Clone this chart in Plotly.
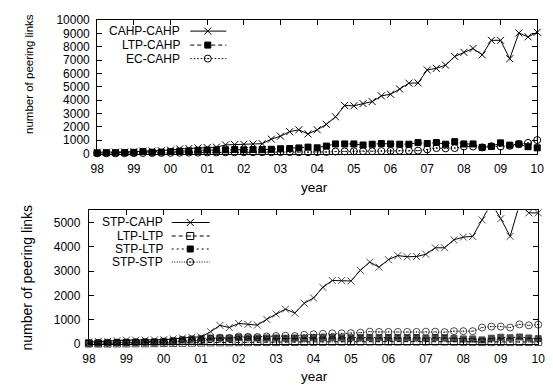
import plotly.graph_objects as go

# Quarterly sampling points, 1998 Q1 .. 2010 Q1
quarters = [1998 + q / 4 for q in range(49)]
year_ticks = list(range(1998, 2011))
year_labels = ["98", "99", "00", "01", "02", "03", "04", "05", "06", "07", "08", "09", "10"]

# Upper panel: peering links involving CAHPs
cahp_cahp = [100, 100, 100, 120, 140, 180, 190, 210, 260, 350, 380, 420,
             450, 480, 650, 670, 700, 720, 740, 1080, 1300, 1640, 1780, 1470,
             1780, 2190, 2750, 3600, 3575, 3740, 3890, 4320, 4440, 4830, 5270, 5290,
             6260, 6380, 6620, 7270, 7580, 7870, 7390, 8480, 8480, 7100, 9030, 8740,
             9080]
ltp_cahp = [50, 60, 60, 70, 90, 140, 100, 110, 150, 180, 200, 250,
            270, 260, 280, 300, 280, 300, 290, 320, 360, 380, 420, 480,
            430, 560, 720, 720, 720, 640, 700, 750, 720, 700, 700, 820,
            750, 820, 700, 890, 720, 720, 460, 530, 800, 630, 720, 510,
            430]
ec_cahp = [20, 20, 20, 30, 30, 40, 40, 50, 50, 60, 70, 70,
           80, 80, 90, 90, 100, 100, 100, 100, 110, 110, 100, 100,
           110, 120, 150, 160, 170, 180, 170, 190, 200, 210, 210, 220,
           310, 410, 390, 410, 530, 530, 460, 550, 530, 580, 700, 800,
           1010]

# Lower panel: peering links involving STPs / LTPs
stp_cahp = [70, 100, 100, 130, 150, 150, 150, 160, 170, 200, 240, 270,
            280, 500, 760, 670, 840, 800, 770, 1010, 1230, 1430, 1270, 1670,
            1890, 2330, 2610, 2610, 2590, 3030, 3370, 3160, 3470, 3640, 3590, 3600,
            3690, 3960, 3960, 4290, 4400, 4430, 5110, 5800, 5160, 4430, 5750, 5400,
            5400]
ltp_ltp = [10, 10, 10, 15, 15, 20, 20, 25, 30, 35, 40, 45,
           50, 55, 60, 60, 65, 65, 70, 70, 70, 75, 75, 75,
           80, 80, 85, 85, 85, 90, 90, 90, 90, 90, 90, 90,
           90, 90, 90, 85, 80, 80, 70, 70, 70, 70, 75, 75,
           75]
stp_ltp = [30, 30, 40, 50, 60, 70, 80, 80, 110, 130, 170, 200,
           220, 240, 240, 230, 260, 250, 240, 240, 240, 230, 240, 230,
           250, 250, 260, 250, 250, 260, 260, 250, 260, 260, 250, 260,
           230, 260, 250, 220, 200, 200, 160, 230, 270, 250, 280, 240,
           210]
stp_stp = [30, 40, 40, 50, 50, 60, 60, 60, 70, 80, 100, 120,
           140, 200, 250, 240, 300, 290, 280, 300, 320, 330, 320, 370,
           390, 410, 430, 430, 440, 460, 500, 490, 490, 490, 490, 490,
           500, 500, 480, 520, 520, 520, 670, 710, 710, 670, 800, 760,
           790]

TOP_YMAX = 10000
BOT_YMAX = 5500

FONT = "Liberation Sans, Arial, Helvetica, sans-serif"
TICK_SIZE = 12
KEY_SIZE = 12
W, H = 553, 391

# series styles: (name, values, symbol, dash)
top_series = [
    ("CAHP-CAHP", cahp_cahp, "x-thin", "solid"),
    ("LTP-CAHP", ltp_cahp, "square", "4px,3px"),
    ("EC-CAHP", ec_cahp, "circle-open-dot", "1.5px,2px"),
]
bottom_series = [
    ("STP-CAHP", stp_cahp, "x-thin", "solid"),
    ("LTP-LTP", ltp_ltp, "square-open-dot", "4px,3px"),
    ("STP-LTP", stp_ltp, "square", "2px,3px"),
    ("STP-STP", stp_stp, "circle-open-dot", "1px,1.5px"),
]


def marker_for(symbol, size=7):
    return dict(symbol=symbol, size=size, color="black",
                line=dict(color="black", width=1))


def base_size(symbol):
    return 6 if symbol == "square" else 7


fig = go.Figure()

for name, vals, sym, dash in top_series:
    fig.add_trace(go.Scatter(
        x=quarters, y=vals, mode="lines+markers", name=name,
        line=dict(color="black", width=1, dash=dash),
        marker=marker_for(sym, base_size(sym)),
        cliponaxis=False, xaxis="x", yaxis="y", showlegend=False))

for name, vals, sym, dash in bottom_series:
    b = base_size(sym)
    m = marker_for(sym, b)
    # markers for values beyond the axis top are not drawn (lines get clipped)
    m["size"] = [b if v <= BOT_YMAX else 0 for v in vals]
    fig.add_trace(go.Scatter(
        x=quarters, y=vals, mode="lines+markers", name=name,
        line=dict(color="black", width=1, dash=dash),
        marker=m, cliponaxis=False, xaxis="x2", yaxis="y2", showlegend=False))

# Key entries (text on the left, sample line with marker on the right),
# drawn on a pixel-scaled helper axis spanning the whole figure.
annotations = []


def add_key(entries, text_right, sample_x0, sample_x1, mark_x, row_y):
    for (name, _vals, sym, dash), yk in zip(entries, row_y):
        fig.add_trace(go.Scatter(
            x=[sample_x0, sample_x1], y=[yk, yk], mode="lines",
            line=dict(color="black", width=1, dash=dash),
            xaxis="x3", yaxis="y3", showlegend=False, hoverinfo="skip",
            cliponaxis=False))
        fig.add_trace(go.Scatter(
            x=[mark_x], y=[yk], mode="markers",
            marker=marker_for(sym, base_size(sym)),
            xaxis="x3", yaxis="y3", showlegend=False, hoverinfo="skip",
            cliponaxis=False))
        annotations.append(dict(
            text=name, x=text_right / W, y=1 - yk / H, xref="paper", yref="paper",
            xanchor="right", yanchor="middle", showarrow=False,
            font=dict(family=FONT, size=KEY_SIZE, color="black"), borderpad=0))


add_key(top_series, 179, 188, 225, 206, [25, 39.5, 53.5])
add_key(bottom_series, 161, 169, 208, 188, [223.5, 237.5, 251, 264.5])

# Axis titles
annotations += [
    dict(text="year", x=315 / W, y=1 - 187 / H, xref="paper", yref="paper",
         xanchor="center", yanchor="middle", showarrow=False,
         font=dict(family=FONT, size=13.5, color="black")),
    dict(text="year", x=315 / W, y=1 - 383 / H, xref="paper", yref="paper",
         xanchor="center", yanchor="middle", showarrow=False,
         font=dict(family=FONT, size=13.5, color="black")),
    dict(text="number of peering links", x=22 / W, y=1 - 69 / H, xref="paper",
         yref="paper", xanchor="center", yanchor="middle", showarrow=False,
         textangle=-90, font=dict(family=FONT, size=11.5, color="black")),
    dict(text="number of peering links", x=20 / W, y=1 - 280 / H, xref="paper",
         yref="paper", xanchor="center", yanchor="middle", showarrow=False,
         textangle=-90, font=dict(family=FONT, size=14, color="black")),
]

axis_common = dict(
    showline=True, linecolor="black", linewidth=1, mirror="ticks",
    ticks="inside", ticklen=5, tickwidth=1, tickcolor="black",
    showgrid=False, zeroline=False,
    tickfont=dict(family=FONT, size=TICK_SIZE, color="black"),
)

fig.update_layout(
    width=W, height=H,
    margin=dict(l=0, r=0, t=0, b=0),
    paper_bgcolor="white", plot_bgcolor="rgba(0,0,0,0)",
    showlegend=False,
    annotations=annotations,
    xaxis=dict(domain=[92.5 / W, 544 / W], anchor="y", range=[1998, 2010],
               tickvals=year_ticks, ticktext=year_labels, ticklabelstandoff=4,
               **axis_common),
    yaxis=dict(domain=[1 - 152 / H, 1 - 13.5 / H], anchor="x",
               range=[0, TOP_YMAX], tickvals=list(range(0, TOP_YMAX + 1, 1000)),
               tickformat="d", ticklabelstandoff=4, **axis_common),
    xaxis2=dict(domain=[84 / W, 545 / W], anchor="y2", range=[1998, 2010],
                tickvals=year_ticks, ticktext=year_labels, ticklabelstandoff=4,
                **axis_common),
    yaxis2=dict(domain=[1 - 349.3 / H, 1 - 211 / H], anchor="x2",
                range=[0, BOT_YMAX], tickvals=list(range(0, 5001, 1000)),
                tickformat="d", ticklabelstandoff=5, **axis_common),
    xaxis3=dict(domain=[0, 1], anchor="y3", range=[0, W], visible=False,
                fixedrange=True),
    yaxis3=dict(domain=[0, 1], anchor="x3", range=[H, 0], visible=False,
                fixedrange=True),
)

fig.write_html("out.html")
